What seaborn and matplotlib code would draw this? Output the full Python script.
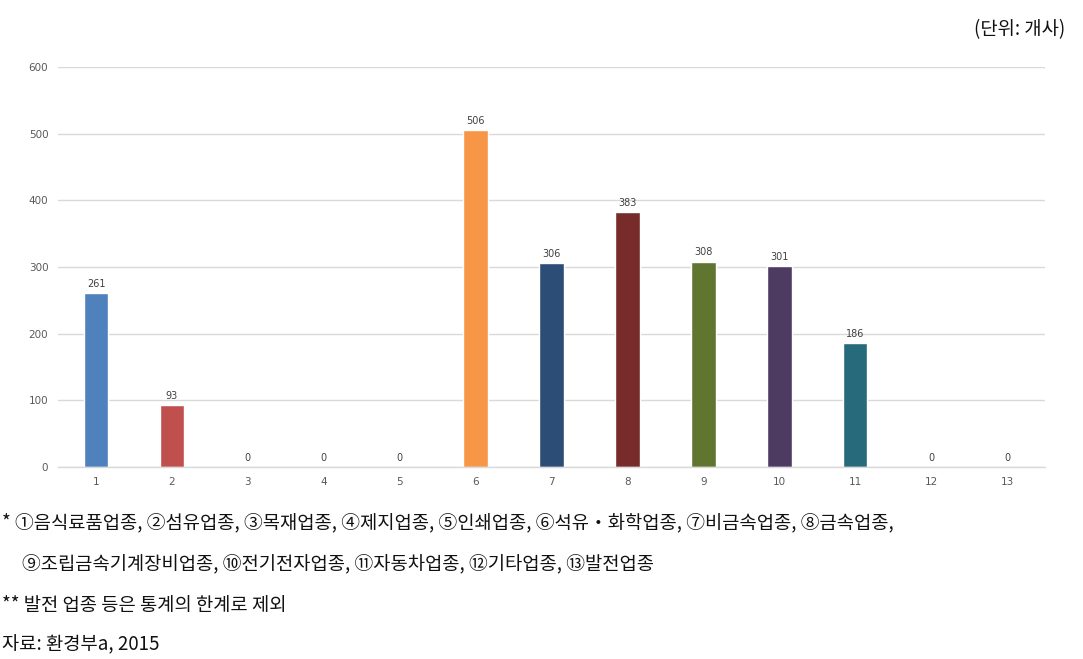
import matplotlib
matplotlib.use("Agg")
import matplotlib.pyplot as plt
import seaborn as sns
import pandas as pd

categories = ["1", "2", "3", "4", "5", "6", "7", "8", "9", "10", "11", "12", "13"]
values = [261, 93, 0, 0, 0, 506, 306, 383, 308, 301, 186, 0, 0]
colors = ["#4F81BD", "#C0504D", "#9BBB59", "#8064A2", "#4BACC6", "#F79646",
          "#2C4D75", "#772C2A", "#5F7530", "#4D3B62", "#276A7C", "#B65708", "#729ACA"]
y_ticks = [0, 100, 200, 300, 400, 500, 600]

unit_label = "(단위: 개사)"
note_line1 = "* ①음식료품업종, ②섬유업종, ③목재업종, ④제지업종, ⑤인쇄업종, ⑥석유・화학업종, ⑦비금속업종, ⑧금속업종,"
note_line2 = "⑨조립금속기계장비업종, ⑩전기전자업종, ⑪자동차업종, ⑫기타업종, ⑬발전업종"
note_line3 = "** 발전 업종 등은 통계의 한계로 제외"
source = "자료: 환경부a, 2015"

sns.set_theme(style="white")
plt.rcParams['font.family'] = ['Noto Sans CJK KR', 'DejaVu Sans']

df = pd.DataFrame({"cat": categories, "val": values})

fig = plt.figure(figsize=(10.83, 6.59), dpi=100)
ax = fig.add_axes([0.0536, 0.2914, 0.9114, 0.6069])

sns.barplot(data=df, x="cat", y="val", hue="cat", palette=colors, order=categories,
            hue_order=categories, legend=False, width=0.32, ax=ax, saturation=1)

for c in ax.containers:
    ax.bar_label(c, fmt="%d", padding=3, fontsize=7, color="#404040",
                 family="DejaVu Sans")

ax.set_ylim(0, 600)
ax.set_xlim(-0.5, 12.5)
ax.set_yticks(y_ticks)
ax.set_yticklabels([str(v) for v in y_ticks])
ax.yaxis.grid(True, color="#D9D9D9", linewidth=1)
ax.set_axisbelow(True)
for s in ["top", "right", "left"]:
    ax.spines[s].set_visible(False)
ax.spines["bottom"].set_color("#D9D9D9")
ax.spines["bottom"].set_linewidth(1)
ax.tick_params(axis="both", length=0, labelsize=7.5, labelcolor="#595959", pad=7)
for lab in ax.get_xticklabels() + ax.get_yticklabels():
    lab.set_family("DejaVu Sans")
ax.set_xlabel("")
ax.set_ylabel("")

fs = 13.5
fig.text(1065/1083, 1 - 30/659, unit_label, ha="right", va="center", fontsize=fs, color="#111111")
fig.text(2/1083, 1 - 523/659, note_line1, ha="left", va="center", fontsize=fs, color="#111111")
fig.text(22/1083, 1 - 565/659, note_line2, ha="left", va="center", fontsize=fs, color="#111111")
fig.text(2/1083, 1 - 605/659, note_line3, ha="left", va="center", fontsize=fs, color="#111111")
fig.text(2/1083, 1 - 645/659, source, ha="left", va="center", fontsize=fs, color="#111111")

fig.savefig("out.png", dpi=100)
